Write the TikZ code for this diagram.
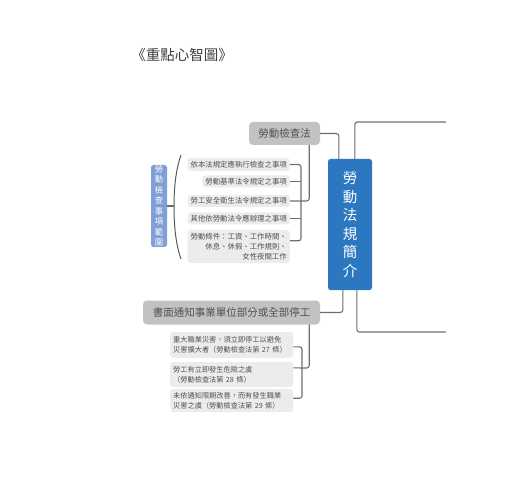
\documentclass[tikz,border=0pt]{standalone}
\usepackage{fontspec}
\setmainfont{Noto Sans CJK TC}
\usetikzlibrary{calc}
\definecolor{linec}{HTML}{6E6E6E}
\definecolor{txtc}{HTML}{505050}
\definecolor{titlec}{HTML}{3C3C3C}
\definecolor{topicfill}{HTML}{C2C2C2}
\definecolor{itemfill}{HTML}{ECECEC}
\definecolor{mainblue}{HTML}{2B78C0}
\definecolor{lightblue}{HTML}{7F9FD6}
\tikzset{
  conn/.style={draw=linec, line width=1.1pt, rounded corners=2.5pt},
  itembox/.style={fill=itemfill, rounded corners=3pt, text=txtc, font=\fontsize{7.4}{9.8}\selectfont, inner xsep=3pt, inner ysep=0pt, anchor=east},
  subbox/.style={fill=itemfill, rounded corners=3pt, text=txtc, font=\fontsize{7.2}{10}\selectfont, inner xsep=3pt, inner ysep=0pt, anchor=west, text width=117pt, align=left},
  topicbox/.style={fill=topicfill, rounded corners=4pt, text=txtc, font=\fontsize{10.5}{12}\selectfont, inner sep=0pt},
  mainbox/.style={fill=mainblue, rounded corners=2.5pt, text=white, font=\fontsize{14.5}{18.6}\selectfont, inner sep=0pt, align=center},
  scopebox/.style={fill=lightblue, rounded corners=2.5pt, text=white, font=\fontsize{8.3}{10.5}\selectfont, inner sep=0pt, align=center},
}
\begin{document}
\begin{tikzpicture}[x=1pt,y=-1pt]
\useasboundingbox (0,0) rectangle (520,500);
% title
\node[text=titlec, font=\fontsize{14.5}{16}\selectfont] (title) at (182,55) {《重點心智圖》};
% main topics
\node[topicbox, minimum width=71pt, minimum height=23pt] (lab) at (284.5,133.5) {勞動檢查法};
\node[mainbox, minimum width=44pt, minimum height=131pt] (main) at (350,224.5) {勞\\動\\法\\規\\簡\\介};
\node[topicbox, minimum width=177pt, minimum height=24pt] (notice) at (231.5,312.5) {書面通知事業單位部分或全部停工};
% items of 勞動檢查法
\node[itembox, minimum height=13pt] (i1) at (290,164.5) {依本法規定應執行檢查之事項};
\node[itembox, minimum height=12pt] (i2) at (290,181.5) {勞動基準法令規定之事項};
\node[itembox, minimum height=12pt] (i3) at (290,201) {勞工安全衛生法令規定之事項};
\node[itembox, minimum height=12pt] (i4) at (290,218.5) {其他依勞動法令應辦理之事項};
\node[itembox, minimum height=33pt, align=right] (i5) at (290,246.5) {勞動條件：工資、工作時間、\\休息、休假、工作規則、\\女性夜間工作};
% scope label
\node[scopebox, minimum width=16pt, minimum height=82pt] (scope) at (159,206) {勞\\動\\檢\\查\\事\\項\\範\\圍};
% sub items of 書面通知
\node[subbox, minimum height=26pt] (s1) at (170,345) {重大職業災害，須立即停工以避免\\災害擴大者（勞動檢查法第 27 條）};
\node[subbox, minimum height=25pt] (s2) at (170,374.5) {勞工有立即發生危險之虞\\（勞動檢查法第 28 條）};
\node[subbox, minimum height=23pt] (s3) at (170,400.5) {未依通知限期改善，而有發生職業\\災害之虞（勞動檢查法第 29 條）};
% coordinates
\coordinate (j1) at (301,201);
\coordinate (i5hook) at ($(i5.north east)+(0,11)$);
\coordinate (labdrop) at ($(lab.south east)+(-11,0)$);
\coordinate (j2) at (302,368);
\coordinate (s1hook) at ($(s1.north east)+(0,15)$);
\coordinate (s2hook) at ($(s2.north east)+(0,6)$);
\coordinate (s3hook) at ($(s3.south east)+(0,-14)$);
\coordinate (noticedrop) at ($(notice.south east)+(-11,0)$);
\coordinate (r1) at (446,122);
\coordinate (r2) at (446,332);
\coordinate (pm) at (174,206);
% main connectors
\draw[conn] (lab.east) -| ($(main.north west)+(11,0)$);
\draw[conn] (notice.east) -| ($(main.south west)+(15,0)$);
\draw[conn] ($(main.north west)+(27,0)$) |- (r1);
\draw[conn] ($(main.south west)+(29,0)$) |- (r2);
% bracket of items
\draw[conn] (i1.east) -| (j1);
\draw[conn] (i5hook) -| (j1);
\draw[conn] (i2.east) -- (i2.east -| j1);
\draw[conn] (i4.east) -- (i4.east -| j1);
\draw[conn] (i3.east) -- (j1) -| (labdrop);
% bracket of sub items
\draw[conn] (s1hook) -| (j2);
\draw[conn] (s3hook) -| (j2);
\draw[conn] (s2hook) -- (j2) -| (noticedrop);
% parenthesis
\draw[draw=linec!80!black, line width=1pt] (181,155) .. controls (175,172) and (174,192) .. (pm) .. controls (174,222) and (175,242) .. (181,259);
\draw[conn] (scope.east) -- (pm);
\end{tikzpicture}
\end{document}
